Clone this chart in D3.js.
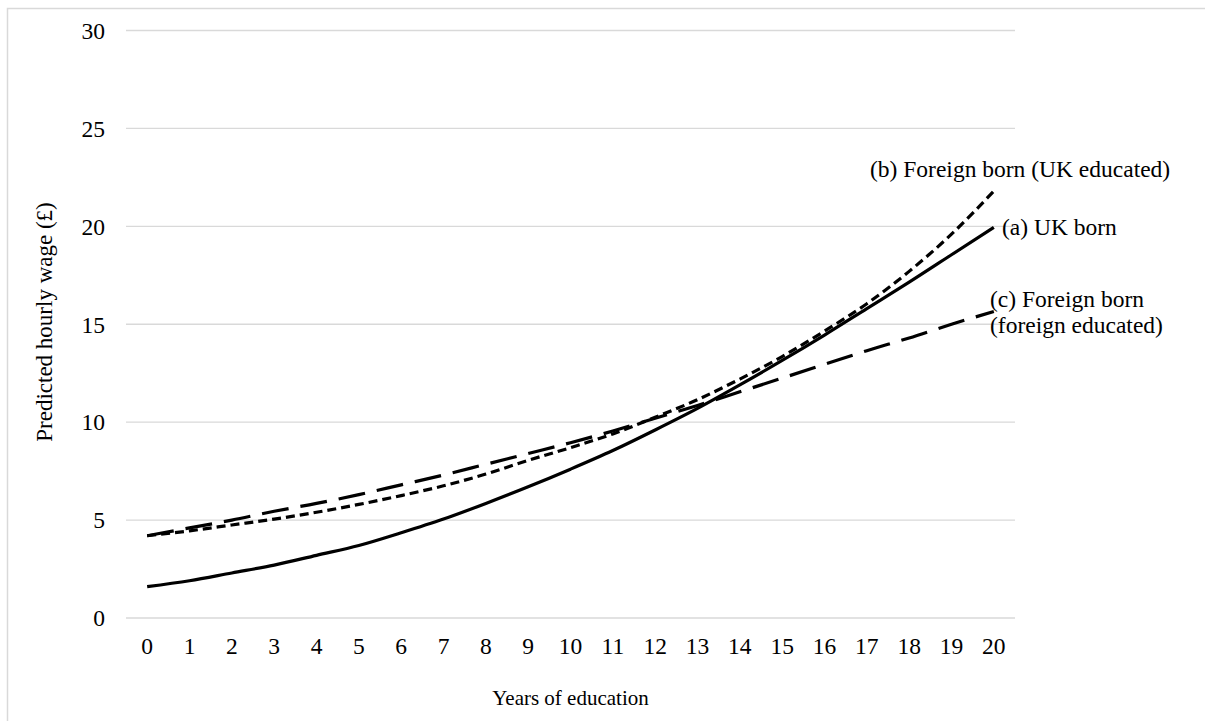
<!DOCTYPE html>
<html>
<head>
<meta charset="utf-8">
<script src="https://cdn.jsdelivr.net/npm/d3@7"></script>
<style>
  body { margin: 0; background: #fff; }
  text { font-family: "Liberation Serif", "Times New Roman", serif; fill: #000; }
</style>
</head>
<body>
<svg width="1205" height="721"></svg>
<script>
// years of education 0..20
const years = ["0","1","2","3","4","5","6","7","8","9","10","11","12","13","14","15","16","17","18","19","20"];
const ukBorn = [1.6, 1.9, 2.3, 2.7, 3.2, 3.7, 4.35, 5.05, 5.85, 6.7, 7.6, 8.55, 9.6, 10.7, 11.9, 13.15, 14.45, 15.8, 17.15, 18.55, 19.95];
const foreignUK = [4.2, 4.45, 4.75, 5.05, 5.4, 5.8, 6.25, 6.75, 7.35, 8.05, 8.7, 9.4, 10.25, 11.15, 12.2, 13.35, 14.65, 16.05, 17.7, 19.6, 21.8];
const foreignForeign = [4.2, 4.6, 5.0, 5.45, 5.85, 6.3, 6.8, 7.3, 7.85, 8.4, 8.95, 9.55, 10.2, 10.85, 11.55, 12.25, 12.95, 13.65, 14.3, 15.0, 15.65];
const yTicks = [0, 5, 10, 15, 20, 25, 30];

var svg = d3.select("svg");

// light frame round the chart
svg.append("rect")
    .attr("x", 7.5).attr("y", 8.5)
    .attr("width", 1210).attr("height", 730)
    .attr("fill", "none")
    .attr("stroke", "#d9d9d9")
    .attr("stroke-width", 1.5);

var plotLeft = 126, plotRight = 1015, plotTop = 30.5, plotBottom = 618;

var x = d3.scaleBand()
    .domain(years)
    .range([plotLeft, plotRight]);

var y = d3.scaleLinear()
    .domain([0, 30])
    .range([plotBottom, plotTop]);

// gridlines
svg.append("g")
    .selectAll("line")
    .data(yTicks)
    .enter()
    .append("line")
    .attr("x1", plotLeft).attr("x2", plotRight)
    .attr("y1", d => y(d)).attr("y2", d => y(d))
    .attr("stroke", "#d9d9d9")
    .attr("stroke-width", 1.3);

// y axis labels
var yAxis = svg.append("g")
    .attr("transform", "translate(" + (plotLeft - 21) + ",0)")
    .call(d3.axisLeft(y).tickValues(yTicks).tickSize(0).tickPadding(0));
yAxis.select(".domain").remove();
yAxis.selectAll("text")
    .style("font-family", "Liberation Serif")
    .attr("font-size", 23.5)
    .attr("fill", "#000")
    .attr("dy", "0.33em");

// x axis labels
var xAxis = svg.append("g")
    .attr("transform", "translate(0," + plotBottom + ")")
    .call(d3.axisBottom(x).tickSize(0).tickPadding(0));
xAxis.select(".domain").remove();
xAxis.selectAll("text")
    .style("font-family", "Liberation Serif")
    .attr("font-size", 23.5)
    .attr("fill", "#000")
    .attr("y", 36)
    .attr("dy", 0);

// axis titles
svg.append("text")
    .attr("x", (plotLeft + plotRight) / 2)
    .attr("y", 705)
    .attr("text-anchor", "middle")
    .attr("font-size", 21)
    .text("Years of education");

svg.append("text")
    .attr("transform", "translate(52,322) rotate(-90)")
    .attr("text-anchor", "middle")
    .attr("font-size", 23)
    .text("Predicted hourly wage (£)");

// lines
var line = d3.line()
    .x((d, i) => x(years[i]) + x.bandwidth() / 2)
    .y(d => y(d))
    .curve(d3.curveMonotoneX);

var series = [
    { values: foreignForeign, dash: "27,12" },
    { values: foreignUK, dash: "9,5" },
    { values: ukBorn, dash: null }
];

svg.append("g")
    .selectAll("path")
    .data(series)
    .enter()
    .append("path")
    .attr("d", d => line(d.values))
    .attr("fill", "none")
    .attr("stroke", "#000")
    .attr("stroke-width", 3.2)
    .attr("stroke-dasharray", d => d.dash);

// line labels
var labels = [
    { t: "(b) Foreign born (UK educated)", x: 870, y: 177 },
    { t: "(a) UK born", x: 1002, y: 235 },
    { t: "(c) Foreign born", x: 990, y: 307 },
    { t: "(foreign educated)", x: 990, y: 333 }
];
svg.append("g")
    .selectAll("text")
    .data(labels)
    .enter()
    .append("text")
    .attr("x", d => d.x)
    .attr("y", d => d.y)
    .attr("font-size", 23.5)
    .text(d => d.t);
</script>
</body>
</html>
